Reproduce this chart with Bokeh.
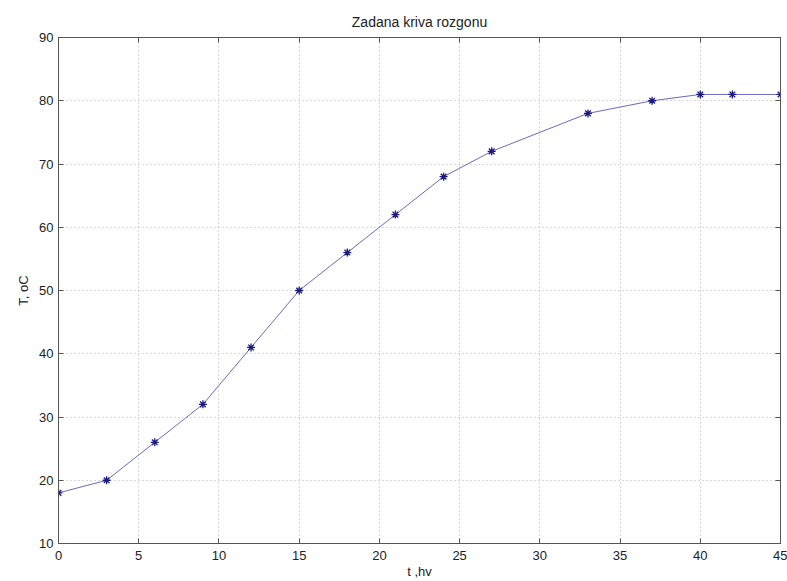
from bokeh.plotting import figure
from bokeh.models import Range1d, LinearAxis, FixedTicker
from bokeh.embed import file_html
from bokeh.resources import INLINE

t_hv = [0, 3, 6, 9, 12, 15, 18, 21, 24, 27, 33, 37, 40, 42, 45]
temp_c = [18, 20, 26, 32, 41, 50, 56, 62, 68, 72, 78, 80, 81, 81, 81]
x_ticks = [0, 5, 10, 15, 20, 25, 30, 35, 40, 45]
y_ticks = [10, 20, 30, 40, 50, 60, 70, 80, 90]

FONT = "Liberation Sans"

p = figure(width=787, height=581, output_backend="svg", toolbar_location=None,
           x_range=Range1d(0, 45), y_range=Range1d(10, 90),
           min_border_left=58, min_border_right=7, min_border_top=37, min_border_bottom=38)
p.title.text = "Zadana kriva rozgonu"
p.title.align = "center"
p.title.text_font = FONT
p.title.text_font_size = "14px"
p.title.text_font_style = "normal"
p.title.text_color = "#222222"
p.title.offset = 0
p.title.standoff = 15

p.outline_line_color = "#555555"
p.outline_line_width = 1
p.background_fill_color = "white"
p.border_fill_color = "white"

for ax in (p.xaxis[0], p.yaxis[0]):
    ax.major_tick_in = 5
    ax.major_tick_out = 0
    ax.minor_tick_in = 0
    ax.minor_tick_out = 0
    ax.axis_line_color = "#555555"
    ax.major_tick_line_color = "#555555"
    ax.major_label_text_font = FONT
    ax.major_label_text_font_size = "13px"
    ax.major_label_text_color = "#222222"
    ax.axis_label_text_font = FONT
    ax.axis_label_text_font_size = "13px"
    ax.axis_label_text_font_style = "normal"
    ax.axis_label_text_color = "#222222"
p.xaxis[0].ticker = FixedTicker(ticks=x_ticks)
p.yaxis[0].ticker = FixedTicker(ticks=y_ticks)
p.xaxis[0].major_label_standoff = 7
p.yaxis[0].major_label_standoff = 5
p.xaxis[0].axis_label = "t ,hv"
p.yaxis[0].axis_label = "T, oC"
p.xaxis[0].axis_label_standoff = 1
p.yaxis[0].axis_label_standoff = 5

top_ax = LinearAxis(ticker=FixedTicker(ticks=x_ticks), major_tick_in=5, major_tick_out=0,
                    minor_tick_in=0, minor_tick_out=0, major_label_text_font_size="0px",
                    major_label_standoff=0,
                    axis_line_color="#555555", major_tick_line_color="#555555")
right_ax = LinearAxis(ticker=FixedTicker(ticks=y_ticks), major_tick_in=5, major_tick_out=0,
                      minor_tick_in=0, minor_tick_out=0, major_label_text_font_size="0px",
                      major_label_standoff=0,
                      axis_line_color="#555555", major_tick_line_color="#555555")
top_ax.major_label_text_alpha = 0
right_ax.major_label_text_alpha = 0
p.add_layout(top_ax, "above")
p.add_layout(right_ax, "right")

for g in (p.xgrid[0], p.ygrid[0]):
    g.grid_line_color = "#b0b0b0"
    g.grid_line_dash = "1 3"
    g.grid_line_width = 1
p.xgrid[0].ticker = FixedTicker(ticks=x_ticks)
p.ygrid[0].ticker = FixedTicker(ticks=y_ticks)

p.line(t_hv, temp_c, line_color="#6a6ac8", line_width=1)
p.scatter(t_hv, temp_c, marker="asterisk", size=8, line_color="#1a1a80", line_width=1.3)

open("out.html", "w").write(file_html(p, INLINE))
